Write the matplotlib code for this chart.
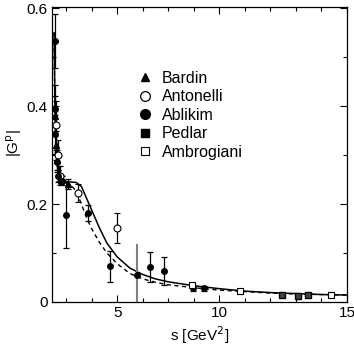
import numpy as np
import matplotlib.pyplot as plt
from matplotlib.lines import Line2D

plt.rcParams['font.family'] = ['Liberation Sans', 'DejaVu Sans']

# model curves
curve_s = [3.53, 3.56, 3.60, 3.65, 3.70, 3.80, 4.00, 4.20, 4.40, 4.60, 4.80, 5.00,
           5.30, 5.60, 6.00, 6.50, 7.00, 7.50, 8.00, 9.00, 10.0, 11.0, 12.0, 13.0, 14.0, 15.0]
solid_g = [0.55, 0.42, 0.34, 0.295, 0.268, 0.252, 0.246, 0.245, 0.244, 0.236, 0.212, 0.188,
           0.152, 0.120, 0.092, 0.069, 0.056, 0.047, 0.041, 0.033, 0.027, 0.022, 0.019, 0.017, 0.015, 0.014]
dashed_g = [0.55, 0.42, 0.34, 0.295, 0.268, 0.250, 0.243, 0.238, 0.226, 0.200, 0.172, 0.150,
            0.122, 0.100, 0.078, 0.058, 0.047, 0.040, 0.035, 0.029, 0.024, 0.021, 0.018, 0.016, 0.015, 0.014]

# data sets
bardin_s = [3.57, 3.61, 3.66, 3.72, 3.80, 4.06]
bardin_g = [0.38, 0.32, 0.29, 0.262, 0.250, 0.241]
bardin_e = [0.04, 0.03, 0.02, 0.015, 0.010, 0.010]

antonelli_s = [3.60, 3.68, 3.76, 4.45, 5.98]
antonelli_g = [0.361, 0.300, 0.258, 0.222, 0.151]
antonelli_e = [0.050, 0.030, 0.020, 0.018, 0.030]

ablikim_s = [3.55, 3.56, 3.58, 3.64, 3.70, 3.84, 4.00, 4.84, 5.71, 6.76, 7.29, 7.84, 8.98, 9.42]
ablikim_g = [0.533, 0.394, 0.343, 0.286, 0.257, 0.248, 0.178, 0.182, 0.073, 0.055, 0.071, 0.063, 0.028, 0.028]
ablikim_e = [0.055, 0.050, 0.040, 0.020, 0.012, 0.010, 0.068, 0.016, 0.032, 0.063, 0.031, 0.028, 0.006, 0.005]

pedlar_s = [12.46, 13.10, 13.48]
pedlar_g = [0.014, 0.012, 0.014]
pedlar_e = [0.002, 0.002, 0.002]

ambrogiani_s = [8.94, 10.82, 14.37]
ambrogiani_g = [0.035, 0.022, 0.015]
ambrogiani_e = [0.004, 0.005, 0.006]

xtick_pos = [6, 10, 15]
xtick_lab = ['5', '10', '15']
ytick_pos = [0, 0.2, 0.4, 0.6]
ytick_lab = ['0', '0.2', '0.4', '0.6']

fig = plt.figure(figsize=(3.54, 3.45), dpi=100)
ax = fig.add_axes([0.147, 0.125, 0.833, 0.855])

ax.plot(curve_s, solid_g, color='black', lw=1.1, zorder=3)
ax.plot(curve_s, dashed_g, color='black', lw=1.0, ls=(0, (3, 2.5)), zorder=3)

ekw = dict(capsize=2.5, elinewidth=0.9, capthick=0.9, ecolor='black', ls='none', zorder=4)
ax.errorbar(bardin_s, bardin_g, yerr=bardin_e, fmt='^', ms=4, mfc='black', mec='black', **ekw)
ax.errorbar(antonelli_s, antonelli_g, yerr=antonelli_e, fmt='o', ms=5, mfc='white', mec='black', mew=0.8, **ekw)
# the s = 6.76 bar is drawn grey in the reference
grey = [i for i in range(len(ablikim_s)) if ablikim_s[i] == 6.76]
black = [i for i in range(len(ablikim_s)) if ablikim_s[i] != 6.76]
ax.errorbar([ablikim_s[i] for i in black], [ablikim_g[i] for i in black],
            yerr=[ablikim_e[i] for i in black], fmt='o', ms=4, mfc='black', mec='black', **ekw)
ekw_g = dict(ekw)
ekw_g['ecolor'] = 'grey'
ekw_g['capsize'] = 0
ekw_g['elinewidth'] = 1.5
ax.errorbar([ablikim_s[i] for i in grey], [ablikim_g[i] for i in grey],
            yerr=[ablikim_e[i] for i in grey], fmt='o', ms=4, mfc='black', mec='black', **ekw_g)
ax.errorbar(pedlar_s, pedlar_g, yerr=pedlar_e, fmt='s', ms=4, mfc='#444444', mec='black', **ekw)
ax.errorbar(ambrogiani_s, ambrogiani_g, yerr=ambrogiani_e, fmt='s', ms=4.5, mfc='white', mec='black', mew=0.8, **ekw)

ax.set_xlim(3.45, 15)
ax.set_ylim(0, 0.603)
ax.set_xticks(xtick_pos)
ax.set_xticklabels(xtick_lab)
ax.set_xticks(np.arange(4, 15, 1), minor=True)
ax.set_yticks(ytick_pos)
ax.set_yticklabels(ytick_lab)
ax.set_yticks([0.1, 0.3, 0.5], minor=True)
ax.tick_params(which='both', direction='in', top=True, right=True, labelsize=11, width=0.8)
ax.tick_params(which='major', length=5, pad=3)
ax.tick_params(which='minor', length=3)
for sp in ax.spines.values():
    sp.set_linewidth(0.9)

ax.set_xlabel('s [GeV$^2$]', fontsize=11)
ax.xaxis.set_label_coords(0.5, -0.075)
ax.set_ylabel('|G$^\\mathrm{p}$|', fontsize=11)
ax.yaxis.set_label_coords(-0.095, 0.54)

handles = [
    Line2D([], [], ls='none', marker='^', ms=6, mfc='black', mec='black'),
    Line2D([], [], ls='none', marker='o', ms=7, mfc='white', mec='black', mew=0.9),
    Line2D([], [], ls='none', marker='o', ms=7, mfc='black', mec='black'),
    Line2D([], [], ls='none', marker='s', ms=5.5, mfc='black', mec='black'),
    Line2D([], [], ls='none', marker='s', ms=5.5, mfc='white', mec='black', mew=0.8),
]
names = ['Bardin', 'Antonelli', 'Ablikim', 'Pedlar', 'Ambrogiani']
ax.legend(handles, names, loc='upper left', bbox_to_anchor=(0.26, 0.81), frameon=False,
          fontsize=11.5, handlelength=1.0, handletextpad=0.6, labelspacing=0.22, borderpad=0)

fig.savefig('out.png', dpi=100)
